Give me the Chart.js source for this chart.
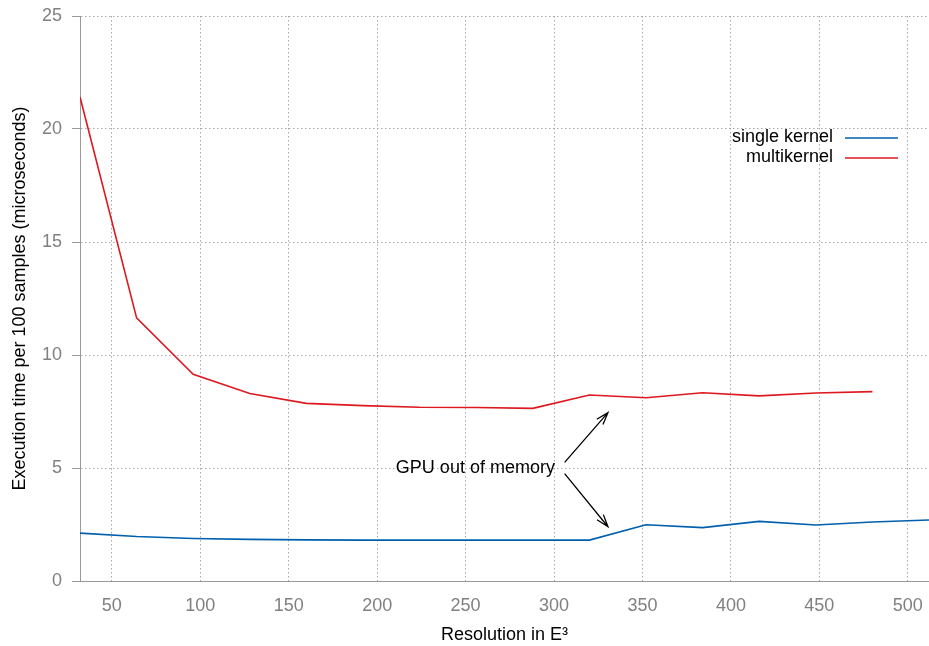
<!DOCTYPE html>
<html>
<head>
<meta charset="utf-8">
<script src="https://cdn.jsdelivr.net/npm/chart.js@4/dist/chart.umd.min.js"></script>
<style>
  html, body { margin: 0; padding: 0; background: #fff; }
  #wrap { width: 929px; height: 646px; position: relative; }
</style>
</head>
<body>
<div id="wrap"><canvas id="c" width="929" height="646"></canvas></div>
<script>
// ---- data ----
const resolutions = [32, 64, 96, 128, 160, 192, 224, 256, 288, 320, 352, 384, 416, 448, 480, 512];
const singleKernel = [2.12, 1.97, 1.88, 1.84, 1.82, 1.81, 1.81, 1.81, 1.81, 1.81, 2.49, 2.36, 2.64, 2.48, 2.61, 2.70];
const multiKernel = [21.42, 11.64, 9.15, 8.30, 7.86, 7.76, 7.69, 7.68, 7.64, 8.23, 8.11, 8.33, 8.19, 8.32, 8.38];
const seriesLabels = ['single kernel', 'multikernel'];
const xTickValues = [50, 100, 150, 200, 250, 300, 350, 400, 450, 500];
const yTickValues = [0, 5, 10, 15, 20, 25];
const annotationText = 'GPU out of memory';
const annotationAnchor = { x: 300.5, y: 5 };
const arrows = [
  { from: { x: 306, y: 5.25 }, to: { x: 330.5, y: 7.45 } },
  { from: { x: 306, y: 4.75 }, to: { x: 330.5, y: 2.40 } }
];

const BLUE = '#0060ad';
const RED = '#dd181f';
const FONT = "'Liberation Sans', Arial, Helvetica, sans-serif";

const toPoints = (xs, ys) => ys.map((v, i) => ({ x: xs[i], y: v }));

const overlayPlugin = {
  id: 'overlay',
  afterDatasetsDraw(chart) {
    const ctx = chart.ctx;
    const xs = chart.scales.x, ys = chart.scales.y;
    ctx.save();
    // annotation text
    ctx.font = '18px ' + FONT;
    ctx.fillStyle = '#000';
    ctx.textAlign = 'right';
    ctx.textBaseline = 'middle';
    ctx.fillText(annotationText, xs.getPixelForValue(annotationAnchor.x), ys.getPixelForValue(annotationAnchor.y));
    // arrows
    ctx.strokeStyle = '#000';
    ctx.lineWidth = 1.3;
    arrows.forEach(a => {
      const x1 = xs.getPixelForValue(a.from.x), y1 = ys.getPixelForValue(a.from.y);
      const x2 = xs.getPixelForValue(a.to.x), y2 = ys.getPixelForValue(a.to.y);
      const ang = Math.atan2(y2 - y1, x2 - x1);
      const hl = 13, ha = 0.32;
      ctx.beginPath();
      ctx.moveTo(x1, y1); ctx.lineTo(x2, y2);
      ctx.moveTo(x2 - hl * Math.cos(ang - ha), y2 - hl * Math.sin(ang - ha));
      ctx.lineTo(x2, y2);
      ctx.lineTo(x2 - hl * Math.cos(ang + ha), y2 - hl * Math.sin(ang + ha));
      ctx.stroke();
    });
    // legend
    ctx.font = '18px ' + FONT;
    ctx.textAlign = 'right';
    ctx.textBaseline = 'middle';
    const right = chart.chartArea.right;
    chart.data.datasets.forEach((ds, i) => {
      const y = 137 + i * 20;
      ctx.fillStyle = '#000';
      ctx.fillText(ds.label, right - 96, y);
      ctx.strokeStyle = ds.borderColor;
      ctx.lineWidth = 1.6;
      ctx.beginPath();
      ctx.moveTo(right - 84, y + 1);
      ctx.lineTo(right - 31, y + 1);
      ctx.stroke();
    });
    ctx.restore();
  }
};

new Chart(document.getElementById('c'), {
  type: 'line',
  data: {
    datasets: [
      { label: seriesLabels[0], data: toPoints(resolutions, singleKernel), borderColor: BLUE, backgroundColor: BLUE, borderWidth: 1.6, pointRadius: 0, tension: 0 },
      { label: seriesLabels[1], data: toPoints(resolutions, multiKernel), borderColor: RED, backgroundColor: RED, borderWidth: 1.6, pointRadius: 0, tension: 0 }
    ]
  },
  options: {
    responsive: false,
    animation: false,
    devicePixelRatio: 1,
    layout: { padding: { top: 16, right: 0, left: 0, bottom: 0 } },
    plugins: { legend: { display: false }, tooltip: { enabled: false } },
    scales: {
      x: {
        type: 'linear',
        min: resolutions[0],
        max: resolutions[resolutions.length - 1],
        afterBuildTicks: s => { s.ticks = xTickValues.map(v => ({ value: v })); },
        afterFit: s => { s.height = 65; s.paddingLeft = 0; s.paddingRight = 0; },
        ticks: { color: '#808080', font: { family: FONT, size: 18 }, padding: 14, maxRotation: 0, autoSkip: false },
        grid: { color: '#a8a8a8', lineWidth: 1, drawTicks: false },
        border: { display: true, color: '#999', width: 1, dash: [1.5, 2.5] },
        title: { display: true, text: 'Resolution in E³', color: '#000', font: { family: FONT, size: 18 }, padding: { top: 0, bottom: 0 } }
      },
      y: {
        type: 'linear',
        min: 0,
        max: 25,
        afterBuildTicks: s => { s.ticks = yTickValues.map(v => ({ value: v })); },
        afterFit: s => { s.width = 80; s.paddingTop = 0; s.paddingBottom = 0; },
        ticks: { color: '#808080', font: { family: FONT, size: 18 }, padding: 10 },
        grid: { color: '#a8a8a8', lineWidth: 1, drawTicks: true, tickLength: 8, tickColor: '#999', tickBorderDash: [] },
        border: { display: true, color: '#999', width: 1, dash: [1.5, 2.5] },
        title: { display: true, text: 'Execution time per 100 samples (microseconds)', color: '#000', font: { family: FONT, size: 18 }, padding: { top: 9, bottom: 0 } }
      }
    }
  },
  plugins: [overlayPlugin]
});
</script>
</body>
</html>
